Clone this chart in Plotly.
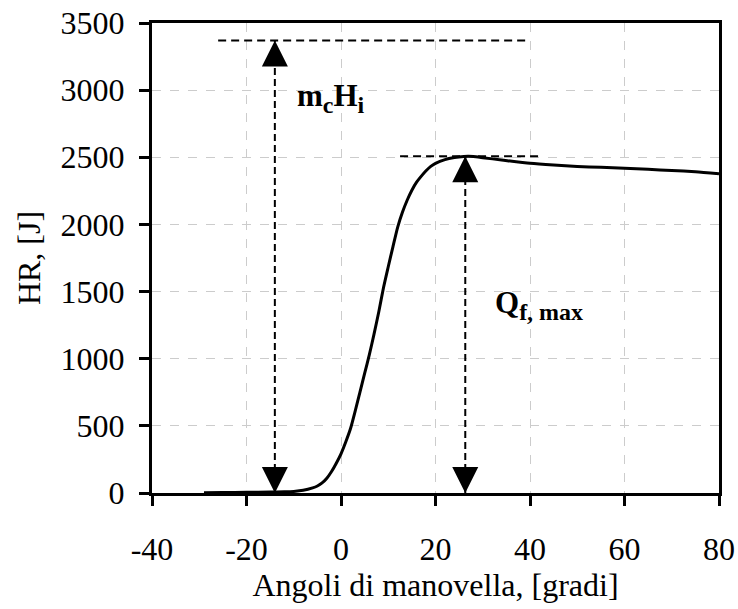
import plotly.graph_objects as go

# Crank angle [deg] and heat release [J]
angle = [-29, -25, -20, -15, -12, -10, -8, -6, -5, -4, -3, -2, -1, 0, 1, 2, 3, 4, 5, 6,
         7, 8, 9, 10, 11, 12, 13, 14, 15, 16, 17, 18, 19, 20, 22, 24, 26, 27, 28, 30,
         34, 40, 45, 50, 55, 60, 65, 70, 75, 80]
hr = [2, 3, 5, 7, 9, 12, 20, 38, 52, 75, 110, 160, 222, 292, 380, 478, 610, 750, 890, 1030,
      1185, 1350, 1530, 1685, 1835, 1980, 2090, 2180, 2255, 2315, 2360, 2400, 2432, 2455, 2483, 2498, 2506, 2507, 2505, 2497,
      2480, 2455, 2442, 2432, 2425, 2418, 2410, 2402, 2392, 2378]

# Annotation values
mcHi = 3370          # fuel energy  m_c * H_i
mcHi_x = -14         # x of the m_c H_i arrow
mcHi_line = [-26, 40]
Qmax = 2507          # max heat release
Qmax_x = 26.3
Qmax_line = [12.5, 42]

x_ticks = [-40, -20, 0, 20, 40, 60, 80]
y_ticks = [0, 500, 1000, 1500, 2000, 2500, 3000, 3500]

FONT = "Liberation Serif"

fig = go.Figure()
fig.add_trace(go.Scatter(x=angle, y=hr, mode="lines",
                         line=dict(color="black", width=3, shape="spline", smoothing=0.6),
                         showlegend=False, hoverinfo="skip"))

# dashed guide lines
fig.add_shape(type="line", x0=mcHi_line[0], x1=mcHi_line[1], y0=mcHi, y1=mcHi,
              line=dict(color="black", width=2, dash="8px,5px"))
fig.add_shape(type="line", x0=mcHi_x, x1=mcHi_x, y0=0, y1=mcHi,
              line=dict(color="black", width=2, dash="7px,4px"))
fig.add_shape(type="line", x0=Qmax_line[0], x1=Qmax_line[1], y0=Qmax, y1=Qmax,
              line=dict(color="black", width=2, dash="8px,5px"))
fig.add_shape(type="line", x0=Qmax_x, x1=Qmax_x, y0=0, y1=Qmax,
              line=dict(color="black", width=2, dash="7px,4px"))

# arrow heads (tip at the data point)
def head(x, y, up):
    fig.add_annotation(x=x, y=y, xref="x", yref="y", text="", showarrow=True,
                       ax=0, ay=(22 if up else -22), arrowhead=2, arrowsize=2.6,
                       arrowwidth=2, arrowcolor="black", standoff=0)

head(mcHi_x, mcHi, True)
head(mcHi_x, 0, False)
head(Qmax_x, Qmax, True)
head(Qmax_x, 0, False)

SUB = "<sub><span style='font-size:24px'>{}</span></sub>"
fig.add_annotation(x=-9.7, y=2938, xref="x", yref="y", xanchor="left", yanchor="middle",
                   text="<b>m" + SUB.format("c") + "H" + SUB.format("i") + "</b>", showarrow=False,
                   font=dict(family=FONT, size=31, color="black"))
fig.add_annotation(x=32.1, y=1401, xref="x", yref="y", xanchor="left", yanchor="middle",
                   text="<b>Q" + SUB.format("f, max") + "</b>", showarrow=False,
                   font=dict(family=FONT, size=31, color="black"))

axis_common = dict(showline=True, linecolor="black", linewidth=3, mirror=True,
                   ticks="outside", ticklen=10, tickwidth=3, tickcolor="black",
                   showgrid=True, gridcolor="#cccccc", gridwidth=1, griddash="dash",
                   zeroline=False, automargin=False,
                   tickfont=dict(family=FONT, size=32, color="black"))

fig.update_xaxes(range=[-40, 80], tickvals=x_ticks, ticktext=[str(v) for v in x_ticks],
                 ticklabelstandoff=16,
                 title=dict(text="Angoli di manovella, [gradi]", standoff=8,
                            font=dict(family=FONT, size=32, color="black")),
                 **axis_common)
fig.update_yaxes(range=[0, 3500], tickvals=y_ticks, ticktext=[str(v) for v in y_ticks],
                 ticklabelstandoff=8,
                 title=dict(text="HR, [J]", standoff=11,
                            font=dict(family=FONT, size=32, color="black")),
                 **axis_common)

fig.update_layout(width=738, height=609, margin=dict(l=152, r=19, t=23, b=116),
                  plot_bgcolor="white", paper_bgcolor="white",
                  font=dict(family=FONT, color="black"))

fig.write_html("out.html")
